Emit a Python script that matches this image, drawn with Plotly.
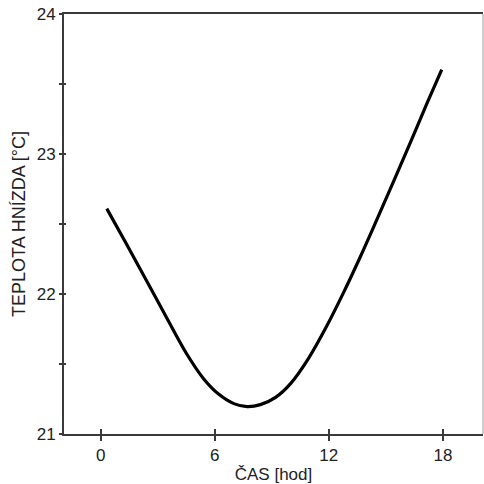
import plotly.graph_objects as go

# Data
cas_hod = [0.32, 1.37, 2.42, 3.47, 4.52, 5.40, 6.20, 7.00, 7.70, 8.40, 9.20, 10.00,
           10.90, 11.89, 12.76, 13.64, 14.52, 15.39, 16.27, 17.15, 17.94]
teplota = [22.61, 22.353, 22.093, 21.83, 21.573, 21.397, 21.285, 21.217, 21.196, 21.21, 21.262, 21.362,
           21.533, 21.771, 22.006, 22.261, 22.529, 22.799, 23.076, 23.358, 23.603]

x_ticks = [0, 6, 12, 18]
y_ticks = [21, 22, 23, 24]
x_range = [-1.93, 20.11]
y_range = [21, 24]

font_family = "Liberation Sans, Arial, sans-serif"
axis_color = "#3a3a3a"
text_color = "#222222"

fig = go.Figure()
fig.add_trace(go.Scatter(
    x=cas_hod, y=teplota, mode="lines",
    line=dict(color="black", width=3.2, shape="spline", smoothing=1.0),
    showlegend=False, hoverinfo="skip",
))
# invisible trace to carry the overlay axes (inner half of crossing ticks)
fig.add_trace(go.Scatter(
    x=[x_range[0]], y=[y_range[0]], xaxis="x2", yaxis="y2", mode="markers",
    marker=dict(opacity=0), showlegend=False, hoverinfo="skip",
))

fig.update_layout(
    width=484, height=484,
    margin=dict(l=64, r=1, t=14, b=50),
    paper_bgcolor="white", plot_bgcolor="white",
    font=dict(family=font_family, color=text_color, size=16),
    xaxis=dict(
        range=x_range,
        tickvals=x_ticks, ticktext=[str(v) for v in x_ticks],
        ticks="outside", ticklen=5, tickwidth=2, tickcolor=axis_color,
        showline=True, linecolor=axis_color, linewidth=2, mirror=True,
        showgrid=False, zeroline=False,
        tickfont=dict(size=17),
        title=dict(text="ČAS [hod]", font=dict(size=17), standoff=4),
    ),
    yaxis=dict(
        range=y_range,
        tickvals=y_ticks, ticktext=[str(v) for v in y_ticks],
        ticks="outside", ticklen=3, tickwidth=2, tickcolor=axis_color,
        minor=dict(dtick=0.5, tick0=21, ticks="outside", ticklen=3, tickwidth=2, tickcolor=axis_color),
        showline=True, linecolor=axis_color, linewidth=2,
        showgrid=False, zeroline=False,
        tickfont=dict(size=17),
        title=dict(text="TEPLOTA HNÍZDA [°C]", font=dict(size=18), standoff=6),
    ),
    xaxis2=dict(
        range=x_range, overlaying="x", side="bottom", anchor="y2",
        tickvals=x_ticks, showticklabels=False,
        ticks="inside", ticklen=5, tickwidth=2, tickcolor=axis_color,
        showline=False, showgrid=False, zeroline=False,
    ),
    yaxis2=dict(
        range=y_range, overlaying="y", side="left", anchor="x2",
        tickvals=y_ticks, showticklabels=False,
        ticks="inside", ticklen=2, tickwidth=2, tickcolor=axis_color,
        minor=dict(dtick=0.5, tick0=21, ticks="inside", ticklen=2, tickwidth=2, tickcolor=axis_color),
        showline=False, showgrid=False, zeroline=False,
    ),
)

fig.add_shape(type="line", xref="paper", yref="paper", x0=1, x1=1, y0=0, y1=1,
              line=dict(color="#9a9a9a", width=1))

fig.write_html("out.html")
